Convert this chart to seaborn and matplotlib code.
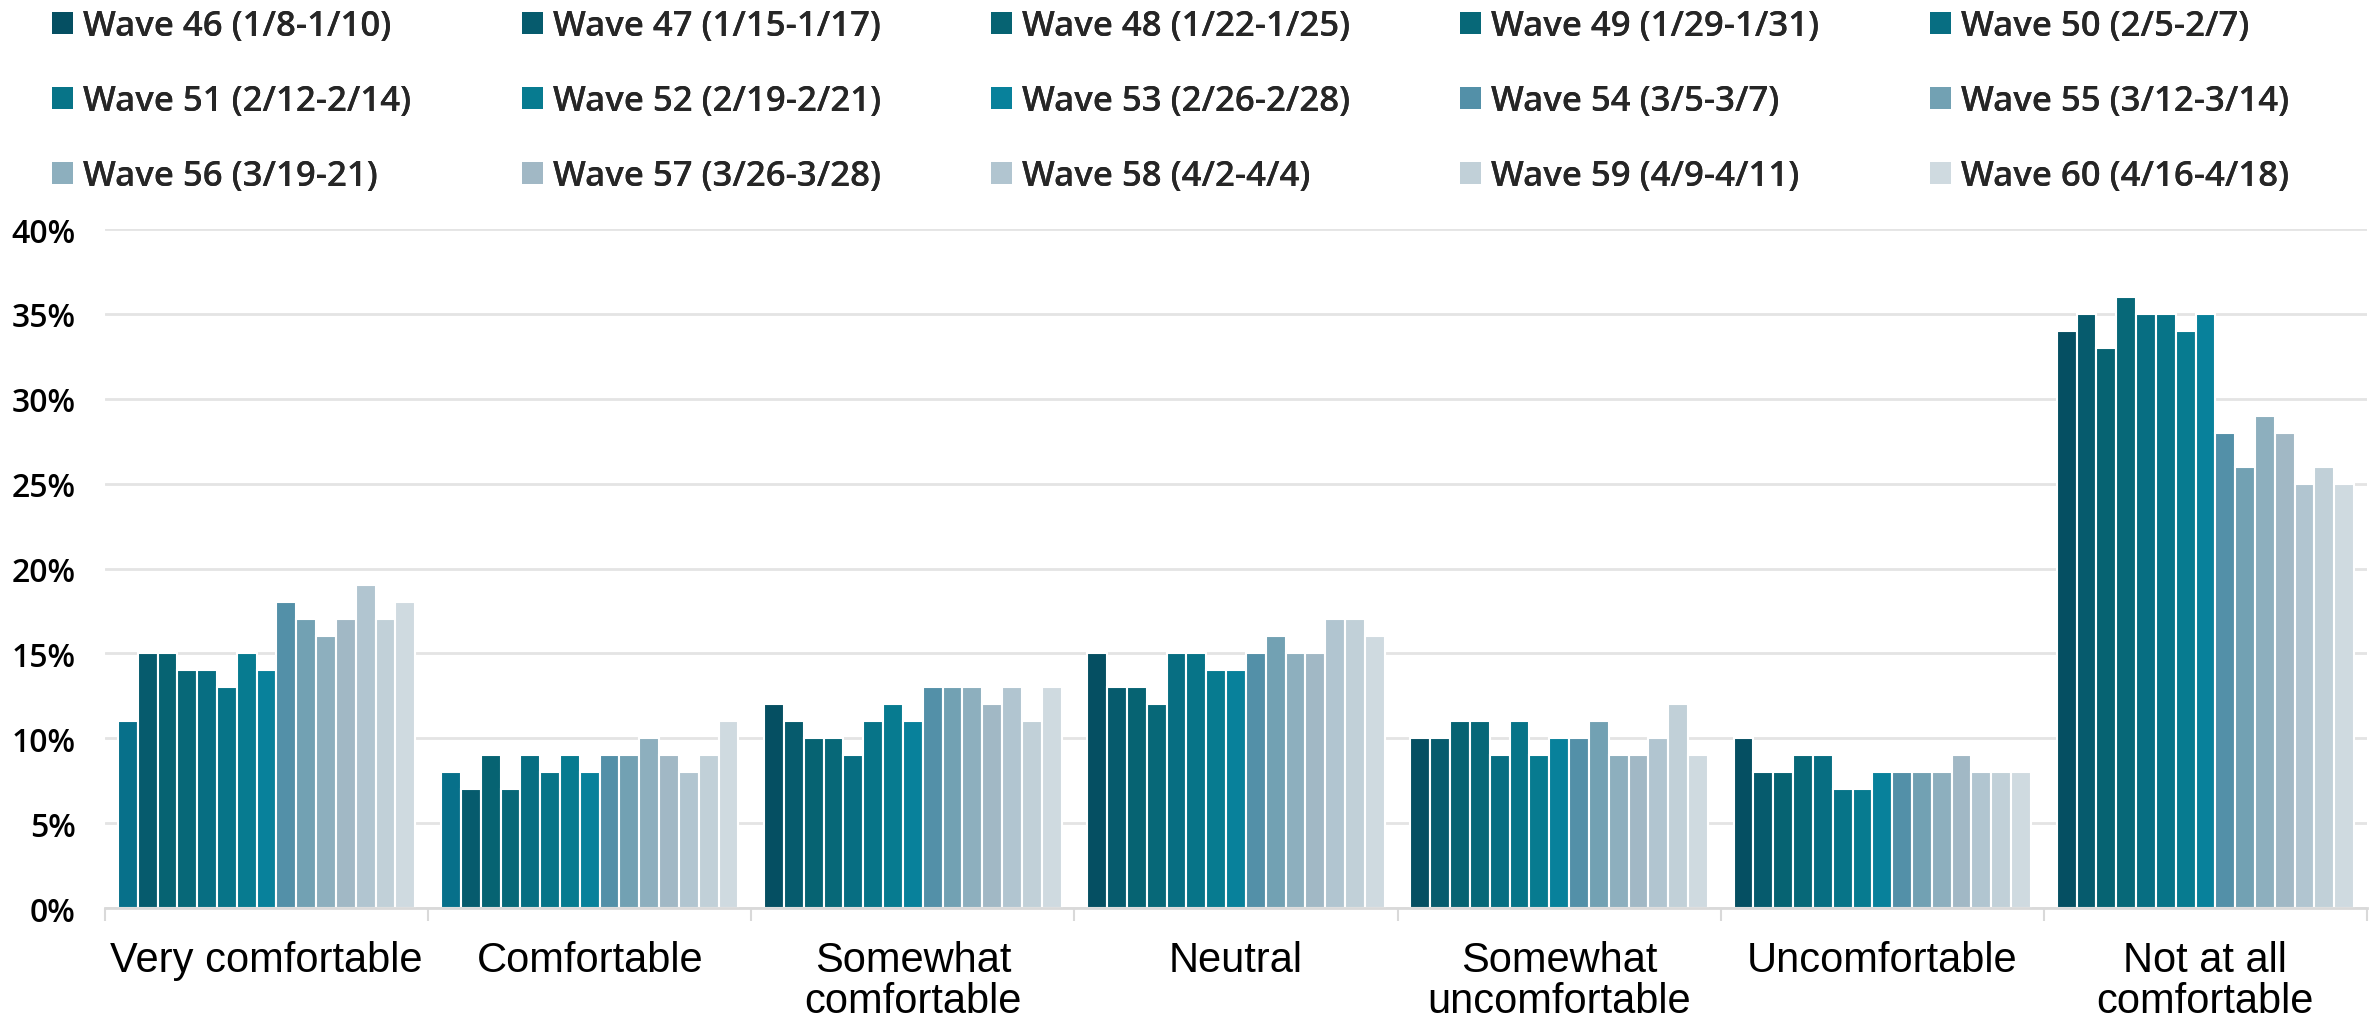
import pandas as pd
import seaborn as sns
import matplotlib.pyplot as plt
from matplotlib.patches import Patch

# Data (percent)
categories = ['Very comfortable', 'Comfortable', 'Somewhat\ncomfortable', 'Neutral',
              'Somewhat\nuncomfortable', 'Uncomfortable', 'Not at all\ncomfortable']
waves = ['Wave 46 (1/8-1/10)', 'Wave 47 (1/15-1/17)', 'Wave 48 (1/22-1/25)',
         'Wave 49 (1/29-1/31)', 'Wave 50 (2/5-2/7)', 'Wave 51 (2/12-2/14)',
         'Wave 52 (2/19-2/21)', 'Wave 53 (2/26-2/28)', 'Wave 54 (3/5-3/7)',
         'Wave 55 (3/12-3/14)', 'Wave 56 (3/19-21)', 'Wave 57 (3/26-3/28)',
         'Wave 58 (4/2-4/4)', 'Wave 59 (4/9-4/11)', 'Wave 60 (4/16-4/18)']

very_comfortable = [11, 15, 15, 14, 14, 13, 15, 14, 18, 17, 16, 17, 19, 17, 18]
comfortable = [8, 7, 9, 7, 9, 8, 9, 8, 9, 9, 10, 9, 8, 9, 11]
somewhat_comfortable = [12, 11, 10, 10, 9, 11, 12, 11, 13, 13, 13, 12, 13, 11, 13]
neutral = [15, 13, 13, 12, 15, 15, 14, 14, 15, 16, 15, 15, 17, 17, 16]
somewhat_uncomfortable = [10, 10, 11, 11, 9, 11, 9, 10, 10, 11, 9, 9, 10, 12, 9]
uncomfortable = [10, 8, 8, 9, 9, 7, 7, 8, 8, 8, 8, 9, 8, 8, 8]
not_at_all = [34, 35, 33, 36, 35, 35, 34, 35, 28, 26, 29, 28, 25, 26, 25]

colors = ['#054f62', '#065b6d', '#066372', '#076878', '#076e82', '#077488', '#077b90',
          '#08819b', '#5390a8', '#72a1b3', '#8dafbe', '#a1b8c5', '#b1c5d0', '#c1d0d8',
          '#cfdae0']

series = [very_comfortable, comfortable, somewhat_comfortable, neutral,
          somewhat_uncomfortable, uncomfortable, not_at_all]
rows = []
for cat, vals in zip(categories, series):
    for w, v in zip(waves, vals):
        rows.append({'category': cat, 'wave': w, 'value': v})
df = pd.DataFrame(rows)

sns.set_style('white')
plt.rcParams['font.family'] = ['Open Sans', 'DejaVu Sans']

W, H = 2377, 1020
fig = plt.figure(figsize=(W / 100, H / 100), dpi=100)
ax = fig.add_axes([105 / W, 1 - 909 / H, (2367 - 105) / W, (909 - 230) / H])

sns.barplot(data=df, x='category', y='value', hue='wave', order=categories,
            hue_order=waves, palette=colors, saturation=1, width=0.92,
            edgecolor='white', linewidth=1.5, ax=ax, legend=False)

# first bar of the first two groups is drawn in a different shade in the original
for i in range(2):
    ax.containers[0][i].set_facecolor('#07708a')

ax.set_ylim(0, 40)
ax.set_xlim(-0.5, len(categories) - 0.5)
ax.set_yticks(range(0, 41, 5))
ax.set_yticklabels([f'{v}%' for v in range(0, 41, 5)], fontsize=23,
                   fontweight='semibold', color='black')
ax.yaxis.grid(True, color='#e4e4e4', linewidth=2)
ax.set_axisbelow(True)
ax.tick_params(axis='y', length=0, pad=21)

ax.set_xticks(range(len(categories)))
ax.set_xticklabels(categories, family=['Liberation Sans'], fontsize=30,
                   color='black', linespacing=1.03)
ax.set_xticks([i - 0.5 for i in range(len(categories) + 1)], minor=True)
ax.tick_params(axis='x', which='major', length=0, pad=23)
ax.tick_params(axis='x', which='minor', length=9, width=1.5, color='#d9d9d9',
               direction='out', bottom=True)
ax.set_xlabel('')
ax.set_ylabel('')
for s in ['top', 'right', 'left']:
    ax.spines[s].set_visible(False)
ax.spines['bottom'].set_color('#d9d9d9')
ax.spines['bottom'].set_linewidth(2)

# legend: 5 columns placed at fixed positions, filled row by row
col_x = [52, 522, 991, 1460, 1930]
for c, x in enumerate(col_x):
    idx = [c + 5 * r for r in range(3)]
    handles = [Patch(facecolor=colors[i], edgecolor='none', label=waves[i]) for i in idx]
    leg = fig.legend(handles=handles, loc='upper left', bbox_to_anchor=(x / W, 1 - 10 / H),
                     frameon=False, handlelength=0.6, handleheight=0.6,
                     handletextpad=0.29, labelspacing=1.18, borderpad=0, borderaxespad=0,
                     prop={'weight': 'semibold', 'size': 25})
    fig.add_artist(leg)

fig.savefig('out.png', dpi=100)
